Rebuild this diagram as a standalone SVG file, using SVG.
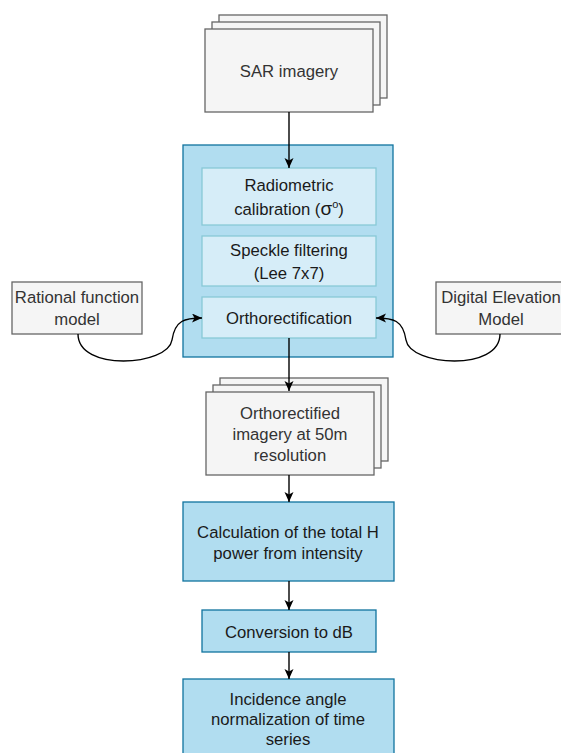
<svg xmlns="http://www.w3.org/2000/svg" width="561" height="753" viewBox="0 0 561 753">
<style>
text{font-family:"Liberation Sans",Arial,sans-serif;font-size:16.7px;text-anchor:middle}
.gray{fill:#f5f5f5;stroke:#666666;stroke-width:1.3}
.gt{fill:#333333}
.blue{fill:#b1ddf0;stroke:#10739e;stroke-width:1.3}
.inner{fill:#d6edf8;stroke:#88c9d6;stroke-width:1.3}
.bt{fill:#1a1a1a}
.conn{fill:none;stroke:#000;stroke-width:1.4;marker-end:url(#arr)}
</style>
<defs>
<marker id="arr" markerUnits="userSpaceOnUse" markerWidth="11" markerHeight="10" refX="10" refY="4.5" orient="auto">
<path d="M0,0 L10,4.5 L0,9 L2.5,4.5 z" fill="#000"/>
</marker>
</defs>
<rect width="561" height="753" fill="#ffffff"/>
<g id="sar">
<rect class="gray" x="219" y="15" width="168" height="83"/>
<rect class="gray" x="212" y="22" width="168" height="83"/>
<rect class="gray" x="205" y="29" width="168" height="83"/>
<text class="gt" x="289" y="77">SAR imagery</text>
</g>
<g id="container">
<rect class="blue" x="183" y="145" width="210" height="212"/>
</g>
<g id="radiometric">
<rect class="inner" x="202" y="168" width="174" height="57"/>
<text class="bt" x="289" y="191">Radiometric</text>
<text class="bt" x="289" y="215">calibration (<tspan font-size="19">σ</tspan><tspan font-size="11" dy="-7">o</tspan><tspan dy="7">)</tspan></text>
</g>
<g id="speckle">
<rect class="inner" x="202" y="236" width="174" height="50"/>
<text class="bt" x="289" y="256">Speckle filtering</text>
<text class="bt" x="289" y="279">(Lee 7x7)</text>
</g>
<g id="ortho">
<rect class="inner" x="202" y="297" width="174" height="41"/>
<text class="bt" x="289" y="324">Orthorectification</text>
</g>
<g id="rfm">
<rect class="gray" x="12" y="282" width="130" height="52"/>
<text class="gt" x="77" y="303">Rational function</text>
<text class="gt" x="77" y="325">model</text>
</g>
<g id="dem">
<rect class="gray" x="436" y="282" width="130" height="52"/>
<text class="gt" x="501" y="303">Digital Elevation</text>
<text class="gt" x="501" y="325">Model</text>
</g>
<g id="orthoimg">
<rect class="gray" x="220" y="378" width="168" height="83"/>
<rect class="gray" x="213" y="385" width="168" height="83"/>
<rect class="gray" x="206" y="392" width="168" height="83"/>
<text class="gt" x="290" y="419">Orthorectified</text>
<text class="gt" x="290" y="440">imagery at 50m</text>
<text class="gt" x="290" y="461">resolution</text>
</g>
<g id="calc">
<rect class="blue" x="183" y="502" width="211" height="79"/>
<text class="bt" x="288" y="538">Calculation of the total H</text>
<text class="bt" x="288" y="559">power from intensity</text>
</g>
<g id="conv">
<rect class="blue" x="202" y="610" width="174" height="42"/>
<text class="bt" x="289" y="638">Conversion to dB</text>
</g>
<g id="incidence">
<rect class="blue" x="183" y="679" width="211" height="80"/>
<text class="bt" x="288" y="705">Incidence angle</text>
<text class="bt" x="288" y="725">normalization of time</text>
<text class="bt" x="288" y="745">series</text>
</g>
<g id="connectors">
<path class="conn" d="M289,112 L289,168"/>
<path class="conn" d="M289,338 L289,391"/>
<path class="conn" d="M289,475 L289,502"/>
<path class="conn" d="M289,581 L289,610"/>
<path class="conn" d="M289,652 L289,679"/>
<path class="conn" d="M78,334 C78,372 168,366 172,340 C175,320 185,318 202,318"/>
<path class="conn" d="M500,334 C500,372 410,366 406,340 C403,320 393,318 376,318"/>
</g>
</svg>
